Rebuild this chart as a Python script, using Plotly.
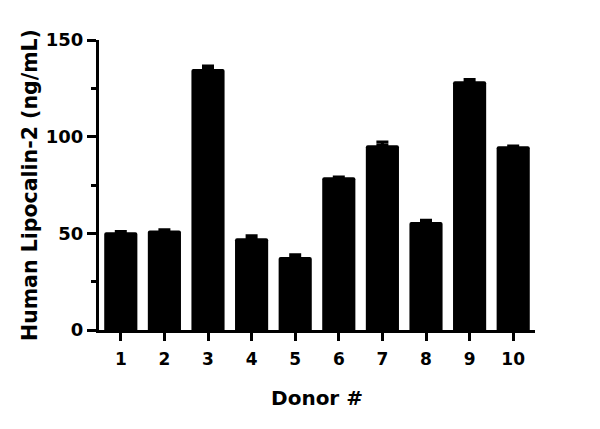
import plotly.graph_objects as go

donors = ["1", "2", "3", "4", "5", "6", "7", "8", "9", "10"]
values = [50.5, 51.5, 135.0, 47.4, 37.8, 79.0, 95.6, 55.8, 128.6, 95.0]
errors = [0.4, 0.3, 1.5, 1.3, 1.1, 0.2, 1.7, 1.0, 1.0, 0.2]
x_pos = list(range(1, len(donors) + 1))

font_family = "DejaVu Sans"

fig = go.Figure()
fig.add_trace(go.Bar(
    x=x_pos,
    y=values,
    marker=dict(color="black", line=dict(width=0), cornerradius=2),
    width=0.76,
    error_y=dict(type="data", symmetric=False, array=errors,
                 arrayminus=[0] * len(errors),
                 color="black", thickness=3, width=6),
))

fig.update_layout(
    width=600, height=429,
    margin=dict(l=91, r=73, t=32, b=107),
    paper_bgcolor="white", plot_bgcolor="white",
    showlegend=False,
    font=dict(family=font_family, color="black", size=16),
)
fig.update_xaxes(
    range=[0.5, 10.5],
    tickvals=x_pos, ticktext=donors,
    showline=True, linecolor="black", linewidth=3,
    ticks="outside", ticklen=8, tickwidth=3, tickcolor="black",
    ticklabelstandoff=4,
    showgrid=False, zeroline=False,
    tickfont=dict(family=font_family, size=17, color="black", weight="bold"),
    title=dict(text="<b>Donor #</b>", font=dict(family=font_family, size=20, color="black"), standoff=23),
)
fig.update_yaxes(
    range=[0, 150],
    tickvals=[0, 50, 100, 150],
    showline=True, linecolor="black", linewidth=3,
    ticks="outside", ticklen=9, tickwidth=3, tickcolor="black",
    minor=dict(tickvals=[25, 75, 125], ticks="outside", ticklen=5, tickwidth=3, tickcolor="black"),
    showgrid=False, zeroline=False,
    tickfont=dict(family=font_family, size=18, color="black", weight="bold"),
    title=dict(text="<b>Human Lipocalin-2 (ng/mL)</b>", font=dict(family=font_family, size=20.5, color="black"), standoff=3),
)

fig.write_html("out.html")
